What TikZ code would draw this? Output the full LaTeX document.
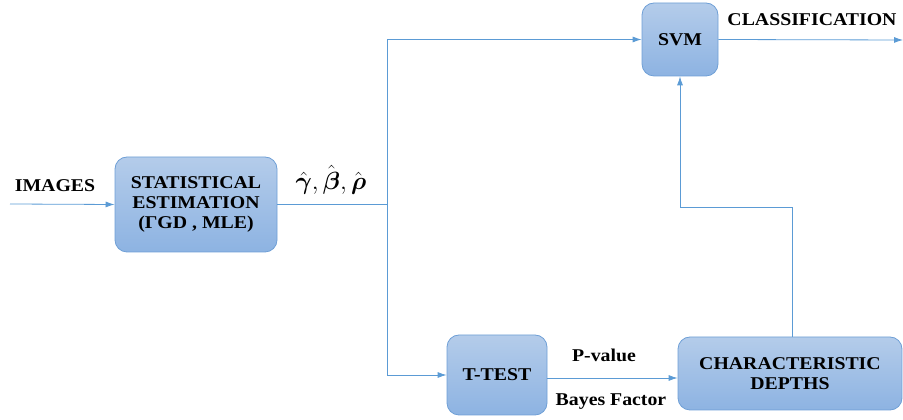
\documentclass[tikz,border=0pt]{standalone}
\usepackage{fontspec}
\setmainfont{Liberation Serif}[FakeStretch=1.1]
\usepackage{amsmath}
\usetikzlibrary{arrows.meta}
\usetikzlibrary{positioning}
\definecolor{boxline}{HTML}{6E9FD6}
\definecolor{boxtop}{HTML}{B4CCEA}
\definecolor{boxbot}{HTML}{8DB3E2}
\definecolor{flow}{HTML}{5B9BD5}
\tikzset{
  block/.style={rectangle, draw=boxline, thick, rounded corners=12pt, top color=boxtop, bottom color=boxbot, align=center, font=\fontsize{18}{20}\selectfont\bfseries},
  arrow/.style={draw=flow, thick, -{Latex[length=9pt,width=6pt]}},
  line/.style={draw=flow, thick},
  lbl/.style={font=\fontsize{18}{20}\selectfont\bfseries}
  }

\begin{document}
\begin{tikzpicture}[x=1pt, y=1pt]
	% Frame
	\useasboundingbox (0,0) rectangle (903,420);

	% Nodes
	\node[block, minimum width=162pt, minimum height=95pt] (stat) at (196,215.5) {STATISTICAL\\ESTIMATION\\(ΓGD , MLE)};
	\node[block, minimum width=76pt, minimum height=73pt] (svm) at (680,380.5) {SVM};
	\node[block, minimum width=100pt, minimum height=80pt] (ttest) at (497,45) {T-TEST};
	\node[block, minimum width=224pt, minimum height=73pt] (depth) at (790,46.5) {CHARACTERISTIC\\DEPTHS};
	\coordinate (in) at (10,216);
	\coordinate (out) at (903,380);
	\coordinate (split) at (387,216);

	% Labels
	\node[lbl] (images) at (55,234) {IMAGES};
	\node[font=\fontsize{23}{25}\selectfont] (params) at (331,240) {$\hat{\boldsymbol{\gamma}}, \hat{\boldsymbol{\beta}}, \hat{\boldsymbol{\rho}}$};
	\node[lbl] (classif) at (812,400) {CLASSIFICATION};
	\node[lbl] (pval) at (604,65) {P-value};
	\node[lbl] (bayes) at (611,18) {Bayes Factor};

	% Arrows
	\draw [arrow] (in) -- (stat.west);
	\draw [line] (stat.east |- split) -- (split);
	\draw [arrow] (split) |- (svm.west);
	\draw [arrow] (split) |- (ttest.west);
	\draw [arrow] (svm.east) -- (out);
	\draw [arrow] (ttest.east |- 0,42) -- (depth.west |- 0,42);
	\draw [arrow] (depth.north -| 792,0) |- (680,213) -- (svm.south);

\end{tikzpicture}
\end{document}
